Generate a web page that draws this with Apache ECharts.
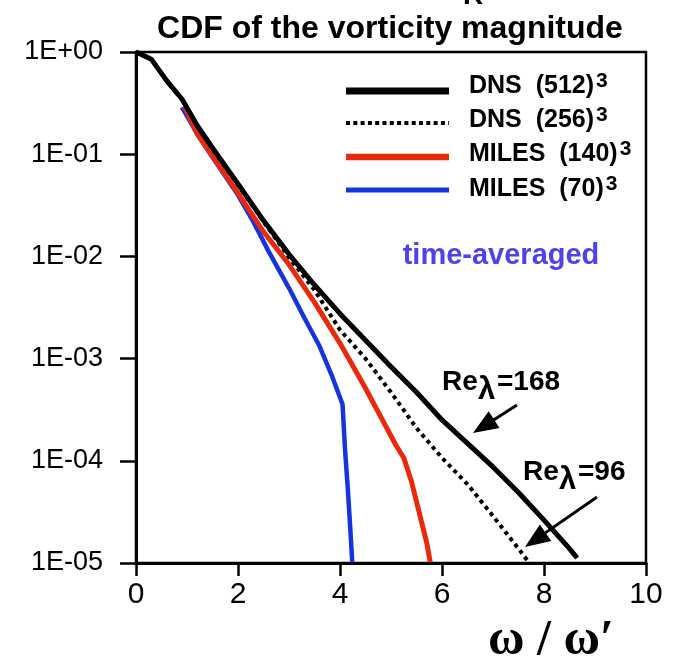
<!DOCTYPE html>
<html><head><meta charset="utf-8">
<script src="https://cdn.jsdelivr.net/npm/echarts@6/dist/echarts.min.js"></script>
<style>html,body{margin:0;padding:0;background:#fff}#c{width:675px;height:669px}</style>
</head><body><div id="c"></div>
<script>
// ---- data ----
const xTicks = [0, 2, 4, 6, 8, 10];
const yTickLabels = ['1E+00', '1E-01', '1E-02', '1E-03', '1E-04', '1E-05'];

const dns512X = [0, 0.3, 0.6, 0.9, 1.2, 1.5, 2.0, 2.5, 3.0, 3.5, 4.0, 4.5, 5.0, 5.5, 6.0, 6.5, 7.0, 7.5, 8.0, 8.5, 8.65];
const dns512Y = [1.0, 0.851, 0.525, 0.347, 0.191, 0.115, 0.0513, 0.0224, 0.0105, 0.00525, 0.00275, 0.00151, 8.32e-4, 4.68e-4, 2.51e-4, 1.48e-4, 8.71e-5, 4.90e-5, 2.63e-5, 1.38e-5, 1.12e-5];

const dns256X = [0, 0.3, 0.6, 0.9, 1.2, 1.5, 2.0, 2.5, 3.0, 3.5, 4.0, 4.5, 5.0, 5.5, 6.0, 6.5, 7.0, 7.5, 7.7];
const dns256Y = [1.0, 0.851, 0.525, 0.347, 0.191, 0.112, 0.050, 0.0219, 0.00977, 0.00468, 0.00191, 0.0010, 4.68e-4, 2.09e-4, 1.07e-4, 5.89e-5, 2.88e-5, 1.38e-5, 1.02e-5];

const miles140X = [0.95, 1.2, 1.5, 2.0, 2.5, 3.0, 3.5, 4.0, 4.5, 4.8, 5.1, 5.25, 5.4, 5.55, 5.7, 5.77];
const miles140Y = [0.295, 0.158, 0.0955, 0.0417, 0.0174, 0.00832, 0.00355, 0.00141, 5.13e-4, 2.69e-4, 1.41e-4, 1.07e-4, 6.31e-5, 3.16e-5, 1.58e-5, 1.02e-5];

const miles70X = [0.9, 1.2, 1.5, 2.0, 2.3, 2.6, 3.0, 3.3, 3.6, 3.85, 4.0, 4.05, 4.1, 4.15, 4.2, 4.24];
const miles70Y = [0.288, 0.158, 0.0933, 0.0398, 0.0219, 0.0112, 0.0049, 0.00251, 0.00132, 6.61e-4, 4.17e-4, 3.55e-4, 1.26e-4, 5.62e-5, 2.24e-5, 1.02e-5];

const seriesNames = ['DNS  (512)', 'DNS  (256)', 'MILES  (140)', 'MILES  (70)'];
const superscript = '3';
const titleText = 'CDF of the vorticity magnitude';
const noteText = 'time-averaged';
const axisNameText = 'ω / ω′';
const re168 = '=168';
const re96 = '=96';

// ---- styling ----
const SANS = '"Liberation Sans", Arial, Helvetica, sans-serif';
const RED = '#e8290c';
const BLUE = '#1434e0';
const zip = (xs, ys) => xs.map((x, i) => [x, ys[i]]);

const chart = echarts.init(document.getElementById('c'), null, {renderer: 'canvas'});

const legendRows = [
  {y: 91, ty: 86, color: '#000', width: 7, dash: null},
  {y: 123, ty: 120, color: '#000', width: 4, dash: [4, 3.3]},
  {y: 157, ty: 154, color: RED, width: 6.5, dash: null},
  {y: 190, ty: 189, color: BLUE, width: 5, dash: null}
];

const graphics = [];
// title
graphics.push({type: 'text', x: 390, y: 29, style: {text: titleText, font: 'bold 32px ' + SANS, fill: '#000', align: 'center', verticalAlign: 'middle'}});
// clipped fragment above title
graphics.push({type: 'text', x: 463, y: -4, style: {text: 'R', font: 'bold 28px ' + SANS, fill: '#000', align: 'left', verticalAlign: 'middle'}});
// legend
legendRows.forEach((r, i) => {
  graphics.push({type: 'line', shape: {x1: 346, y1: r.y, x2: 449, y2: r.y},
    style: {stroke: r.color, lineWidth: r.width, lineDash: r.dash || null}});
  graphics.push({type: 'text', x: 469, y: r.ty, style: {
    text: '{m|' + seriesNames[i] + '}{s|' + superscript + '}',
    align: 'left', verticalAlign: 'middle',
    rich: {
      m: {font: 'bold 25px ' + SANS, fill: '#000', lineHeight: 30, verticalAlign: 'middle'},
      s: {font: 'bold 21px ' + SANS, fill: '#000', lineHeight: 17, verticalAlign: 'top', padding: [0, 0, 0, 2]}
    }}});
});
// time-averaged
graphics.push({type: 'text', x: 501, y: 256, style: {text: noteText, font: 'bold 29px ' + SANS, fill: '#5040ee', align: 'center', verticalAlign: 'middle'}});
// Re labels
function reLabel(x, y, rest) {
  graphics.push({type: 'text', x: x, y: y, style: {text: 'Re', font: 'bold 28px ' + SANS, fill: '#000', align: 'left', verticalAlign: 'middle'}});
  graphics.push({type: 'text', x: x + 36, y: y + 8, style: {text: 'λ', font: 'bold 31px ' + SANS, fill: '#000', align: 'left', verticalAlign: 'middle'}});
  graphics.push({type: 'text', x: x + 55, y: y, style: {text: rest, font: 'bold 28px ' + SANS, fill: '#000', align: 'left', verticalAlign: 'middle'}});
}
reLabel(442, 382, re168);
reLabel(523, 472, re96);
// arrows
function arrow(x1, y1, x2, y2) {
  const dx = x2 - x1, dy = y2 - y1, L = Math.hypot(dx, dy);
  const ux = dx / L, uy = dy / L, hl = 25, hw = 10;
  const bx = x2 - ux * hl, by = y2 - uy * hl;
  graphics.push({type: 'line', shape: {x1: x1, y1: y1, x2: bx + ux * 2, y2: by + uy * 2}, style: {stroke: '#000', lineWidth: 3}});
  graphics.push({type: 'polygon', shape: {points: [[x2, y2], [bx - uy * hw, by + ux * hw], [bx + uy * hw, by - ux * hw]]}, style: {fill: '#000'}});
}
arrow(517, 405, 473, 433);
arrow(597, 497, 525, 547);
// axis name
graphics.push({type: 'text', x: 551, y: 641, style: {text: axisNameText, font: 'bold 50px "Liberation Serif", "Times New Roman", serif', fill: '#000', align: 'center', verticalAlign: 'middle'}});

const option = {
  animation: false,
  backgroundColor: '#fff',
  grid: {left: 136, right: 29, top: 52, bottom: 106, show: true, borderColor: '#000', borderWidth: 2.5, backgroundColor: 'transparent'},
  xAxis: {
    type: 'value', min: xTicks[0], max: xTicks[xTicks.length - 1], interval: 2,
    axisLine: {show: true, onZero: false, lineStyle: {color: '#000', width: 3}},
    axisTick: {show: true, length: 13, lineStyle: {color: '#000', width: 2.5}},
    axisLabel: {fontSize: 30, fontFamily: SANS, color: '#000', margin: 17},
    splitLine: {show: false}
  },
  yAxis: {
    type: 'log', logBase: 10, min: 1e-5, max: 1,
    axisLine: {show: true, onZero: false, lineStyle: {color: '#000', width: 3}},
    axisTick: {show: true, length: 16, lineStyle: {color: '#000', width: 2.5}},
    minorTick: {show: false},
    axisLabel: {fontSize: 27, fontFamily: SANS, color: '#000', margin: 33, padding: [0, 0, 10, 0],
      formatter: v => yTickLabels[Math.round(-Math.log10(v))]},
    splitLine: {show: false}
  },
  series: [
    {name: seriesNames[3], type: 'line', data: zip(miles70X, miles70Y), showSymbol: false, symbol: 'none',
      lineStyle: {color: BLUE, width: 4.5, join: 'round'}},
    {name: seriesNames[2], type: 'line', data: zip(miles140X, miles140Y), showSymbol: false, symbol: 'none',
      lineStyle: {color: RED, width: 5, join: 'round'}},
    {name: seriesNames[1], type: 'line', data: zip(dns256X, dns256Y), showSymbol: false, symbol: 'none',
      lineStyle: {color: '#000', width: 4, type: [4, 4]}},
    {name: seriesNames[0], type: 'line', data: zip(dns512X, dns512Y), showSymbol: false, symbol: 'none',
      lineStyle: {color: '#000', width: 5, join: 'round'}}
  ],
  graphic: graphics
};
chart.setOption(option);
</script>
</body></html>
